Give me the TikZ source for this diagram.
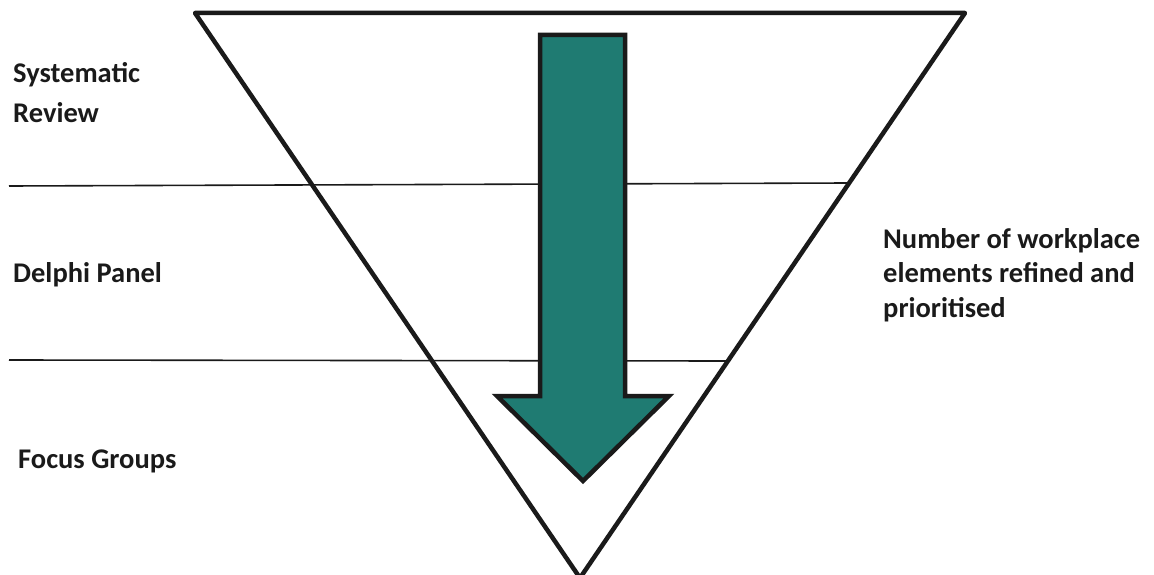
\documentclass[tikz,border=0pt]{standalone}
\usepackage{fontspec}
\setmainfont{Carlito}
\definecolor{flowteal}{RGB}{31,123,114}
\definecolor{inkgrey}{RGB}{26,26,26}
\begin{document}
\begin{tikzpicture}[x=1pt, y=-1pt,
  stagelabel/.style={anchor=base west, align=left, inner sep=0pt, text=inkgrey, font=\fontsize{28.5}{40}\selectfont\bfseries},
  notelabel/.style={anchor=base west, align=left, inner sep=0pt, text=inkgrey, font=\fontsize{28.5}{34.5}\selectfont\bfseries},
  funnel/.style={draw=inkgrey, line width=4.5pt, line join=round},
  divider/.style={draw=inkgrey, line width=1.6pt},
  flowarrow/.style={draw=inkgrey, line width=4.5pt, fill=flowteal, line join=miter}
]
\useasboundingbox (0,0) rectangle (1154,575);

% dividing lines between the stages
\coordinate (d1a) at (9,186);
\coordinate (d1b) at (848,183);
\coordinate (d2a) at (9,360);
\coordinate (d2b) at (726,361);
\draw[divider] (d1a) -- (d1b);
\draw[divider] (d2a) -- (d2b);

% funnel
\coordinate (topL) at (195,13);
\coordinate (topR) at (965,13);
\coordinate (apex) at (580,578);
\draw[funnel] (topL) -- (topR) -- (apex) -- cycle;

% downward arrow
\draw[flowarrow] (540,35) -- (625,35) -- (625,396) -- (669,396)
  -- (583,481) -- (497,396) -- (540,396) -- cycle;

% stage labels (base = baseline of last line)
\node[stagelabel] (review) at (13,123) {Systematic\\Review};
\node[stagelabel] (delphi) at (13,282) {Delphi Panel};
\node[stagelabel] (focus) at (18,468) {Focus Groups};
\node[notelabel] (elements) at (883,317) {Number of workplace\\elements refined and\\prioritised};
\end{tikzpicture}
\end{document}
